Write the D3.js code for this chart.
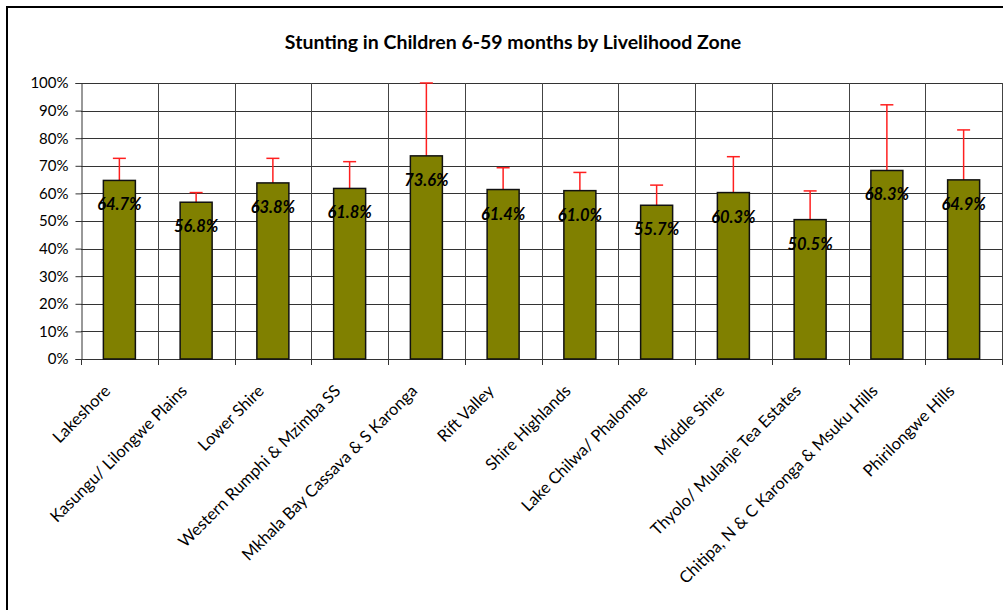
<!DOCTYPE html>
<html>
<head>
<meta charset="utf-8">
<script src="https://cdn.jsdelivr.net/npm/d3@7"></script>
<style>
  html, body { margin: 0; padding: 0; background: #fff; }
  svg { display: block; }
</style>
</head>
<body>
<svg id="chart" width="1003" height="610"></svg>
<script>
// Livelihood zones and stunting prevalence (%), with upper confidence limit (%)
const zones = [
  "Lakeshore",
  "Kasungu/ Lilongwe Plains",
  "Lower Shire",
  "Western Rumphi & Mzimba SS",
  "Mkhala Bay Cassava & S Karonga",
  "Rift Valley",
  "Shire Highlands",
  "Lake Chilwa/ Phalombe",
  "Middle Shire",
  "Thyolo/ Mulanje Tea Estates",
  "Chitipa, N & C Karonga & Msuku Hills",
  "Phirilongwe Hills"
];
const stunting = [64.7, 56.8, 63.8, 61.8, 73.6, 61.4, 61.0, 55.7, 60.3, 50.5, 68.3, 64.9];
const upperCI  = [72.7, 60.3, 72.7, 71.5, 100.0, 69.3, 67.6, 63.0, 73.3, 60.9, 92.1, 83.0];
const yTicks   = [0, 10, 20, 30, 40, 50, 60, 70, 80, 90, 100];
const titleText = "Stunting in Children 6-59 months by Livelihood Zone";

const svg = d3.select("#chart");
const FONT = "Lato, 'Gill Sans', 'DejaVu Sans', sans-serif";

// outer chart frame
svg.append("rect")
  .attr("x", 7).attr("y", 7)
  .attr("width", 1010).attr("height", 620)
  .attr("fill", "none").attr("stroke", "#000").attr("stroke-width", 2);

const plot = { left: 81, right: 1002, top: 83, bottom: 359 };

const x = d3.scaleBand().domain(zones).range([plot.left, plot.right]).padding(0);
const y = d3.scaleLinear().domain([0, 100]).range([plot.bottom, plot.top]);

// title
svg.append("text")
  .attr("x", 513).attr("y", 49)
  .attr("text-anchor", "middle")
  .attr("font-family", FONT).attr("font-weight", "bold")
  .attr("font-size", 19.5)
  .attr("fill", "#000")
  .text(titleText);

// horizontal gridlines
svg.append("g").selectAll("line").data(yTicks).join("line")
  .attr("x1", plot.left).attr("x2", plot.right)
  .attr("y1", d => Math.round(y(d)) + 0.5).attr("y2", d => Math.round(y(d)) + 0.5)
  .attr("stroke", "#333").attr("stroke-width", 1);

// vertical gridlines at category boundaries
const bounds = zones.map(z => x(z)).concat([plot.right]);
svg.append("g").selectAll("line").data(bounds.slice(1)).join("line")
  .attr("x1", d => Math.round(d) + 0.5).attr("x2", d => Math.round(d) + 0.5)
  .attr("y1", plot.top).attr("y2", plot.bottom)
  .attr("stroke", "#444").attr("stroke-width", 1);

// y axis
const yAxis = d3.axisLeft(y).tickValues(yTicks).tickFormat(d => d + "%").tickSize(6).tickPadding(7);
const gy = svg.append("g").attr("transform", `translate(${plot.left + 0.5},0)`).call(yAxis);
gy.select(".domain").attr("stroke", "#333");
gy.selectAll(".tick line").attr("stroke", "#333");
gy.selectAll(".tick text")
  .attr("font-family", FONT).attr("font-size", 15).attr("fill", "#000");

// x axis baseline and boundary ticks
svg.append("line")
  .attr("x1", plot.left).attr("x2", plot.right)
  .attr("y1", plot.bottom + 0.5).attr("y2", plot.bottom + 0.5)
  .attr("stroke", "#333");
svg.append("g").selectAll("line").data(bounds).join("line")
  .attr("x1", d => Math.round(d) + 0.5).attr("x2", d => Math.round(d) + 0.5)
  .attr("y1", plot.bottom).attr("y2", plot.bottom + 6)
  .attr("stroke", "#333");

// category labels, rotated 45 degrees
svg.append("g").selectAll("text").data(zones).join("text")
  .attr("transform", d => `translate(${x(d) + x.bandwidth() / 2 - 8},${392}) rotate(-45)`)
  .attr("text-anchor", "end")
  .attr("font-family", FONT).attr("font-size", 16.5).attr("fill", "#000")
  .text(d => d);

const barW = 32;
const cx = d => x(d) + x.bandwidth() / 2;

// error bars (upper only)
const eb = svg.append("g");
zones.forEach((z, i) => {
  eb.append("line")
    .attr("x1", cx(z)).attr("x2", cx(z))
    .attr("y1", y(stunting[i])).attr("y2", y(upperCI[i]))
    .attr("stroke", "#ff1f1f").attr("stroke-width", 1.5);
  eb.append("line")
    .attr("x1", cx(z) - 6.5).attr("x2", cx(z) + 6.5)
    .attr("y1", y(upperCI[i])).attr("y2", y(upperCI[i]))
    .attr("stroke", "#ff1f1f").attr("stroke-width", 1.5);
});

// bars
svg.append("g").selectAll("rect").data(zones).join("rect")
  .attr("x", d => cx(d) - barW / 2)
  .attr("y", (d, i) => y(stunting[i]))
  .attr("width", barW)
  .attr("height", (d, i) => y(0) - y(stunting[i]))
  .attr("fill", "#808000")
  .attr("stroke", "#111").attr("stroke-width", 1.5);

// value labels
svg.append("g").selectAll("text").data(zones).join("text")
  .attr("x", d => cx(d))
  .attr("y", (d, i) => y(stunting[i]) + 30)
  .attr("text-anchor", "middle")
  .attr("font-family", FONT).attr("font-weight", "bold").attr("font-style", "italic")
  .attr("font-size", 16.5).attr("fill", "#000")
  .text((d, i) => stunting[i].toFixed(1) + "%");
</script>
</body>
</html>
